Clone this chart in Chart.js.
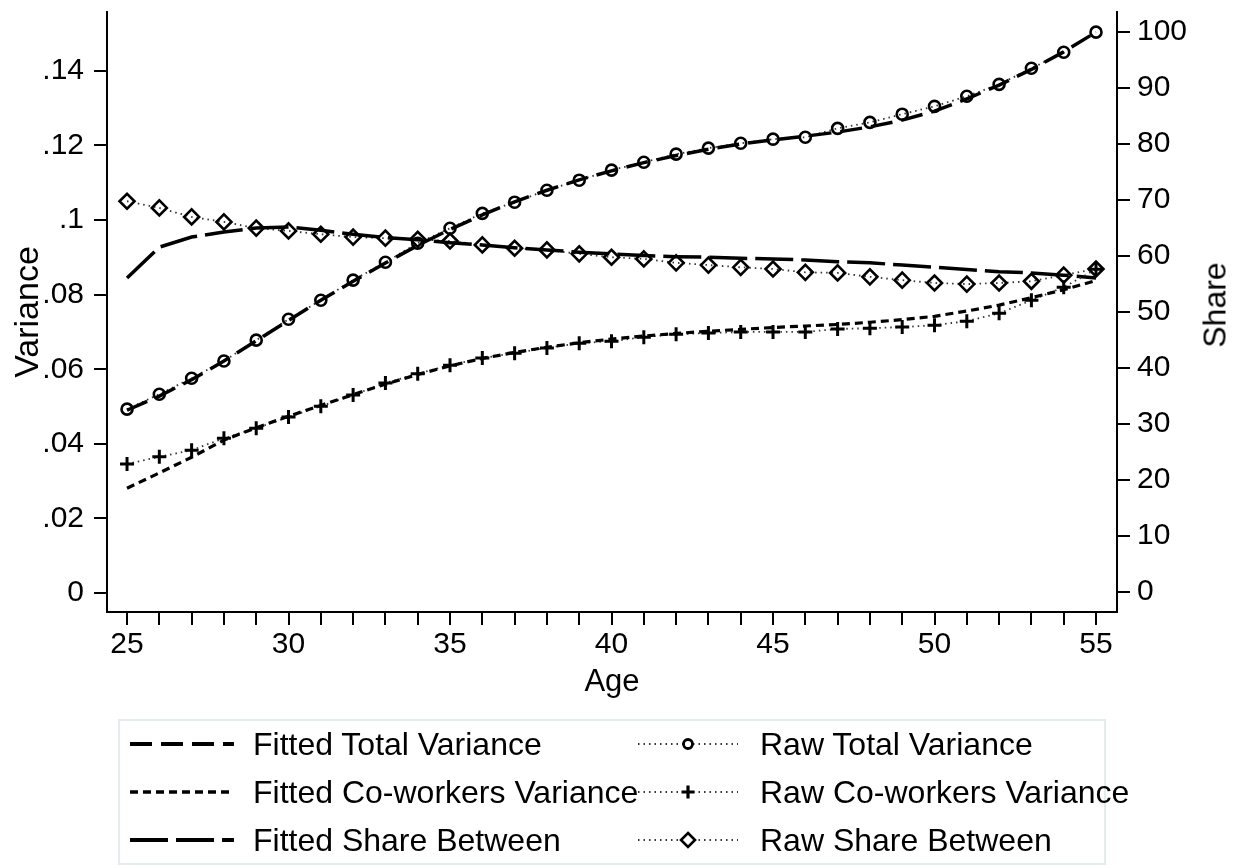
<!DOCTYPE html>
<html>
<head>
<meta charset="utf-8">
<title>Variance by Age</title>
<script src="https://cdn.jsdelivr.net/npm/chart.js@4.4.1/dist/chart.umd.min.js"></script>
<style>
    html, body { margin: 0; padding: 0; background: #fff; }
    #lienzo {
        position: relative; width: 1242px; height: 868px; overflow: hidden;
        font-family: 'Liberation Sans', Arial, sans-serif; color: #000;
    }
    #grafico { position: absolute; left: 0; top: 0; }
    .titulo-share {
        position: absolute; left: 1215px; top: 305px; font-size: 32px;
        transform: translate(-50%, -50%) rotate(-90deg); white-space: nowrap;
    }
    .leyenda {
        position: absolute; left: 118px; top: 719px; width: 984px; height: 142px;
        border: 2px solid #e4eded;
    }
    .item {
        position: absolute; height: 40px; display: flex; align-items: center;
        font-size: 32px; white-space: nowrap;
    }
    .item svg { display: block; }
</style>
</head>
<body>
<div id="lienzo">
    <canvas id="grafico" width="1242" height="868"></canvas>
    <div class="titulo-share">Share</div>
    <div class="leyenda"></div>
    <div id="items-leyenda"></div>
</div>

<script>
// ============================================================
// Varianza total / entre compañeros y share, por edad
// ============================================================


// --- 1. DATOS ---
const edades = [25, 26, 27, 28, 29, 30, 31, 32, 33, 34, 35, 36, 37, 38, 39, 40,
                41, 42, 43, 44, 45, 46, 47, 48, 49, 50, 51, 52, 53, 54, 55];
const edadesConEtiqueta = [25, 30, 35, 40, 45, 50, 55];

// Eje izquierdo (Variance)
const varianzaTotalRaw = [0.0493, 0.0533, 0.0576, 0.0622, 0.0678, 0.0734, 0.0785, 0.0839, 0.0887, 0.0938,
                          0.0978, 0.1018, 0.1048, 0.1080, 0.1107, 0.1134, 0.1155, 0.1177, 0.1193, 0.1206,
                          0.1217, 0.1222, 0.1246, 0.1262, 0.1284, 0.1305, 0.1332, 0.1364, 0.1407, 0.1450, 0.1504];
const varianzaTotalFit = [0.0490, 0.0528, 0.0572, 0.0622, 0.0676, 0.0731, 0.0785, 0.0836, 0.0885, 0.0932,
                          0.0975, 0.1014, 0.1049, 0.1080, 0.1108, 0.1132, 0.1154, 0.1173, 0.1190, 0.1204,
                          0.1215, 0.1225, 0.1236, 0.1250, 0.1268, 0.1292, 0.1325, 0.1362, 0.1404, 0.1451, 0.1504];
const varianzaCompRaw  = [0.0346, 0.0365, 0.0383, 0.0415, 0.0442, 0.0472, 0.0501, 0.0531, 0.0563, 0.0588,
                          0.0611, 0.0630, 0.0643, 0.0657, 0.0670, 0.0675, 0.0686, 0.0694, 0.0697, 0.0700,
                          0.0700, 0.0700, 0.0708, 0.0710, 0.0713, 0.0718, 0.0729, 0.0750, 0.0785, 0.0820, 0.0868];
const varianzaCompFit  = [0.0281, 0.0322, 0.0364, 0.0410, 0.0443, 0.0474, 0.0503, 0.0532, 0.0560, 0.0586,
                          0.0609, 0.0629, 0.0645, 0.0659, 0.0671, 0.0681, 0.0689, 0.0696, 0.0702, 0.0707,
                          0.0712, 0.0716, 0.0720, 0.0726, 0.0733, 0.0742, 0.0756, 0.0772, 0.0792, 0.0813, 0.0838];

// Eje derecho (Share)
const shareRaw = [69.8, 68.6, 67.0, 66.1, 65.0, 64.5, 63.9, 63.4, 63.2, 63.0,
                  62.7, 62.0, 61.4, 61.1, 60.4, 59.8, 59.5, 58.8, 58.4, 58.0,
                  57.7, 57.1, 57.0, 56.3, 55.7, 55.2, 55.0, 55.2, 55.5, 56.6, 57.7];
const shareFit = [56.1, 61.6, 63.4, 64.3, 65.0, 65.2, 64.6, 63.9, 63.3, 62.9,
                  62.4, 62.0, 61.5, 61.1, 60.7, 60.4, 60.1, 59.9, 59.8, 59.6,
                  59.5, 59.3, 59.0, 58.8, 58.4, 58.0, 57.6, 57.2, 57.0, 56.6, 56.1];

// Ticks de los ejes
const ticksVarianza     = [0, 0.02, 0.04, 0.06, 0.08, 0.1, 0.12, 0.14];
const etiquetasVarianza = ['0', '.02', '.04', '.06', '.08', '.1', '.12', '.14'];
const ticksShare        = [0, 10, 20, 30, 40, 50, 60, 70, 80, 90, 100];


// --- 2. ESTILOS ---
const FUENTE = "'Liberation Sans', Arial, sans-serif";
const NEGRO  = '#000';
const PUNTEADO = '#333';

const aPuntos = (valores) => edades.map((e, i) => ({ x: e, y: valores[i] }));

// Cada serie: etiqueta, datos, eje, patrón de línea y marcador
const series = [
    { label: 'Fitted Total Variance',     data: varianzaTotalFit, eje: 'yVar',   dash: [22, 9], ancho: 3.5, marcador: null },
    { label: 'Raw Total Variance',        data: varianzaTotalRaw, eje: 'yVar',   dash: [1.5, 4], ancho: 1.8, marcador: 'circle' },
    { label: 'Fitted Co-workers Variance',data: varianzaCompFit,  eje: 'yVar',   dash: [8, 5],  ancho: 3.2, marcador: null },
    { label: 'Raw Co-workers Variance',   data: varianzaCompRaw,  eje: 'yVar',   dash: [1.5, 4], ancho: 1.8, marcador: 'cross' },
    { label: 'Fitted Share Between',      data: shareFit,         eje: 'yShare', dash: [38, 8], ancho: 3.5, marcador: null },
    { label: 'Raw Share Between',         data: shareRaw,         eje: 'yShare', dash: [1.5, 4], ancho: 1.8, marcador: 'rectRot' }
];

const radioMarcador = { circle: 5.5, cross: 7, rectRot: 7.5 };


// --- 3. GRÁFICO ---
const datasets = series.map(s => ({
    label: s.label,
    data: aPuntos(s.data),
    yAxisID: s.eje,
    borderColor: s.marcador ? PUNTEADO : NEGRO,
    borderWidth: s.ancho,
    borderDash: s.dash,
    tension: 0,
    fill: false,
    pointStyle: s.marcador || 'circle',
    pointRadius: s.marcador ? radioMarcador[s.marcador] : 0,
    pointBorderColor: NEGRO,
    pointBackgroundColor: 'rgba(0,0,0,0)',
    pointBorderWidth: s.marcador === 'cross' ? 3 : 2.6
}));

const ejeComun = {
    grid:   { display: true, drawOnChartArea: false, drawTicks: true, tickLength: 13, color: NEGRO, lineWidth: 2 },
    border: { display: true, color: NEGRO, width: 2 }
};

// Ancho fijo del eje y sin el margen extra que Chart.js reserva para las etiquetas
const fijarAncho = (ancho) => (s) => {
    s.width = ancho;
    s.paddingTop = 0;
    s.paddingBottom = 0;
};

new Chart(document.getElementById('grafico'), {
    type: 'line',
    data: { datasets },
    options: {
        responsive: false,
        animation: false,
        devicePixelRatio: 1,
        layout: { padding: { top: 12, left: 0, right: 0, bottom: 0 } },
        plugins: { legend: { display: false }, tooltip: { enabled: false } },
        scales: {
            x: {
                ...ejeComun,
                type: 'linear',
                position: 'bottom',
                min: 24.38,
                max: 55.65,
                afterBuildTicks: (s) => { s.ticks = edades.map(v => ({ value: v })); },
                afterFit: (s) => { s.height = 256; s.paddingLeft = 0; s.paddingRight = 0; },
                ticks: {
                    autoSkip: false, maxRotation: 0, padding: 2, color: NEGRO,
                    font: { family: FUENTE, size: 30 },
                    callback: (v) => edadesConEtiqueta.includes(v) ? String(v) : ''
                },
                title: {
                    display: true, text: 'Age', color: NEGRO,
                    font: { family: FUENTE, size: 31 },
                    padding: { top: 0, bottom: 167 }
                }
            },
            yVar: {
                ...ejeComun,
                type: 'linear',
                position: 'left',
                min: -0.0051,
                max: 0.1558,
                afterBuildTicks: (s) => { s.ticks = ticksVarianza.map(v => ({ value: v })); },
                afterFit: fijarAncho(107),
                ticks: {
                    padding: 10, color: NEGRO,
                    font: { family: FUENTE, size: 30 },
                    callback: (v, i) => etiquetasVarianza[i]
                },
                title: {
                    display: true, text: 'Variance', color: NEGRO,
                    font: { family: FUENTE, size: 34 },
                    padding: { top: 8, bottom: 0 }
                }
            },
            yShare: {
                ...ejeComun,
                type: 'linear',
                position: 'right',
                min: -3.57,
                max: 103.6,
                afterBuildTicks: (s) => { s.ticks = ticksShare.map(v => ({ value: v })); },
                afterFit: fijarAncho(125),
                ticks: {
                    padding: 7, color: NEGRO,
                    font: { family: FUENTE, size: 30 },
                    callback: (v) => String(v)
                }
            }
        }
    }
});


// --- 4. LEYENDA (dos columnas, como en el original) ---
// Muestra de línea + marcador en SVG
function muestraSVG(s, ancho) {
    const color = s.marcador ? PUNTEADO : NEGRO;
    const w = s.marcador ? 2 : s.ancho + 0.5;
    let svg = `<svg width="${ancho}" height="24" viewBox="0 0 ${ancho} 24">`;
    svg += `<line x1="0" y1="12" x2="${ancho}" y2="12" stroke="${color}" stroke-width="${w}" stroke-dasharray="${s.dash.join(' ')}"/>`;
    const cx = ancho / 2;
    if (s.marcador === 'circle') {
        svg += `<circle cx="${cx}" cy="12" r="4.5" fill="#fff" stroke="#000" stroke-width="2.8"/>`;
    } else if (s.marcador === 'cross') {
        svg += `<path d="M${cx - 6.5} 12 H${cx + 6.5} M${cx} 5.5 V18.5" stroke="#000" stroke-width="3.2"/>`;
    } else if (s.marcador === 'rectRot') {
        svg += `<polygon points="${cx},5 ${cx + 7},12 ${cx},19 ${cx - 7},12" fill="#fff" stroke="#000" stroke-width="2.6"/>`;
    }
    return svg + '</svg>';
}

const filasY = [744, 792, 840];
const contenedor = document.getElementById('items-leyenda');

series.forEach((s, i) => {
    const fila = Math.floor(i / 2);
    const esRaw = i % 2 === 1;
    const item = document.createElement('div');
    item.className = 'item';
    item.style.top  = (filasY[fila] - 20) + 'px';
    item.style.left = (esRaw ? 638 : 130) + 'px';
    const anchoMuestra = esRaw ? 100 : 104;
    const separacion   = esRaw ? 22 : 19;
    item.innerHTML = muestraSVG(s, anchoMuestra) +
        `<span style="margin-left:${separacion}px">${s.label}</span>`;
    contenedor.appendChild(item);
});
</script>
</body>
</html>
